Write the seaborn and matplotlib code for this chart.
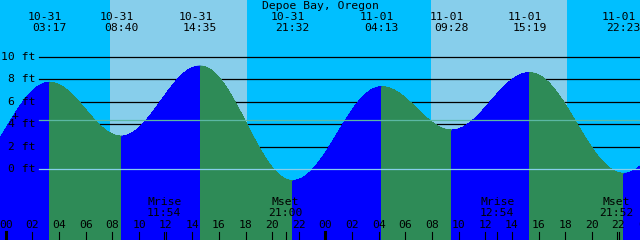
import numpy as np
import pandas as pd
import matplotlib
matplotlib.use("Agg")
import matplotlib.pyplot as plt
import matplotlib.transforms as mtrans
import seaborn as sns

# ---------------- data ----------------
title = "Depoe Bay, Oregon"
event_dates = ["10-31", "10-31", "10-31", "10-31", "11-01", "11-01", "11-01", "11-01"]
event_times = ["03:17", "08:40", "14:35", "21:32", "04:13", "09:28", "15:19", "22:23"]
event_heights = [7.73, 2.95, 9.18, -1.0, 7.34, 3.49, 8.59, -0.36]
# estimated extremes just outside the visible window (hours from 10-31 00:00)
prev_extreme = (-3.2, -0.3)
next_extreme = (52.8, 7.0)
sun_rise_h = [7.82, 31.95]
sun_set_h = [18.1, 42.1]
moon_labels = ["Mrise", "Mset", "Mrise", "Mset"]
moon_dates = ["10-31", "10-31", "11-01", "11-01"]
moon_times = ["11:54", "21:00", "12:54", "21:52"]
mean_level = 4.36
grid_levels = [0, 2, 4, 6, 8, 10]
hour_ticks = list(range(0, 49, 2))
hour_labels = ["%02d" % (h % 24) for h in hour_ticks]

day_offset = {"10-31": 0, "11-01": 24}


def to_hours(d, t):
    hh, mm = t.split(":")
    return day_offset[d] + int(hh) + int(mm) / 60.0


event_h = [to_hours(d, t) for d, t in zip(event_dates, event_times)]
moon_h = [to_hours(d, t) for d, t in zip(moon_dates, moon_times)]

# ---------------- layout ----------------
W, H = 640, 240
X0, PXH = 5.8, 13.32        # px of midnight, px per hour
Y0, PXF = 169.3, 11.25      # px of 0 ft, px per foot
NIGHT = "#00BFFF"
DAY = "#87CEEB"
RISE = "#0000FF"
FALL = "#2E8B57"
FONT = dict(family="DejaVu Sans Mono", size=8.2, color="black")

fig = plt.figure(figsize=(6.4, 2.4), dpi=100)
ax = fig.add_axes([0, 0, 1, 1])
ax.set_xlim(-X0 / PXH, (W - X0) / PXH)
ax.set_ylim((Y0 - H) / PXF, Y0 / PXF)
ax.axis("off")


def yfrac(px):
    return 1 - px / H


# background night/day
bounds = [-10] + sorted(sun_rise_h + sun_set_h) + [60]
for i in range(len(bounds) - 1):
    ax.axvspan(bounds[i], bounds[i + 1], color=NIGHT if i % 2 == 0 else DAY,
               lw=0, zorder=0)

# grid lines behind water
for lv in grid_levels:
    if lv != 0:
        ax.axhline(lv, xmin=39 / W, xmax=1, color="black", lw=0.9, zorder=1)

# tide curve
ext_t = [prev_extreme[0]] + event_h + [next_extreme[0]]
ext_v = [prev_extreme[1]] + event_heights + [next_extreme[1]]
rows = []
for k in range(len(ext_t) - 1):
    t1, t2, v1, v2 = ext_t[k], ext_t[k + 1], ext_v[k], ext_v[k + 1]
    tt = np.linspace(t1, t2, 300)
    vv = v1 + (v2 - v1) * (1 - np.cos(np.pi * (tt - t1) / (t2 - t1))) / 2
    phase = "rise" if v2 > v1 else "fall"
    for a, b in zip(tt, vv):
        rows.append((k, phase, a, b))
df = pd.DataFrame(rows, columns=["seg", "phase", "t", "h"])
pal = {"rise": RISE, "fall": FALL}
for k, g in df.groupby("seg"):
    ax.fill_between(g["t"], g["h"], -20, color=pal[g["phase"].iloc[0]],
                    lw=0, zorder=2, antialiased=False)
sns.lineplot(data=df, x="t", y="h", hue="phase", units="seg", estimator=None,
             palette=pal, legend=False, lw=0.6, sort=False, ax=ax, zorder=2)
ax.set_xlim(-X0 / PXH, (W - X0) / PXH)
ax.set_ylim((Y0 - H) / PXF, Y0 / PXF)
ax.axis("off")

# lines over water
ax.axhline(mean_level, xmin=39 / W, xmax=1, color="#5CB8A4", lw=0.9, zorder=3)
ax.axhline(0, xmin=39 / W, xmax=1, color="#87CEEB", lw=0.9, zorder=3)

# y labels
ytr = mtrans.blended_transform_factory(ax.transAxes, ax.transData)
for lv in grid_levels:
    ax.text(35.5 / W, lv, "%d ft" % lv, transform=ytr, ha="right", va="center",
            zorder=5, **FONT)
ax.text(14.5 / W, yfrac(116), "+", transform=ax.transAxes, ha="center",
        va="center", zorder=5, **FONT)

# title and event labels
xtr = ax.get_xaxis_transform()
ax.text(0.5, yfrac(6), title, transform=ax.transAxes, ha="center", va="center",
        zorder=5, **FONT)
for h, d, t in zip(event_h, event_dates, event_times):
    ax.annotate(d, (h, yfrac(17.5)), xycoords=xtr, xytext=(-4.4 * 0.72, 0),
                textcoords="offset points", ha="center", va="center",
                zorder=5, **FONT)
    ax.text(h, yfrac(28), t, transform=xtr, ha="center", va="center",
            zorder=5, **FONT)

# moon labels
for h, lab, t in zip(moon_h, moon_labels, moon_times):
    ax.text(h, yfrac(201.7), lab, transform=xtr, ha="center", va="center",
            zorder=5, **FONT)
    ax.text(h, yfrac(212.7), t, transform=xtr, ha="center", va="center",
            zorder=5, **FONT)

# hour labels and ticks
for h, lab in zip(hour_ticks, hour_labels):
    ax.text(h, yfrac(225.5), lab, transform=xtr, ha="center", va="center",
            zorder=5, **FONT)
    ax.axvline(h, ymin=0, ymax=8.5 / H, color="black",
               lw=2.2 if h % 24 == 0 else 0.8, zorder=5)
for h in moon_h:
    ax.axvline(h, ymin=0, ymax=8.5 / H, color="black", lw=0.8, zorder=5)

fig.savefig("out.png", dpi=100)
